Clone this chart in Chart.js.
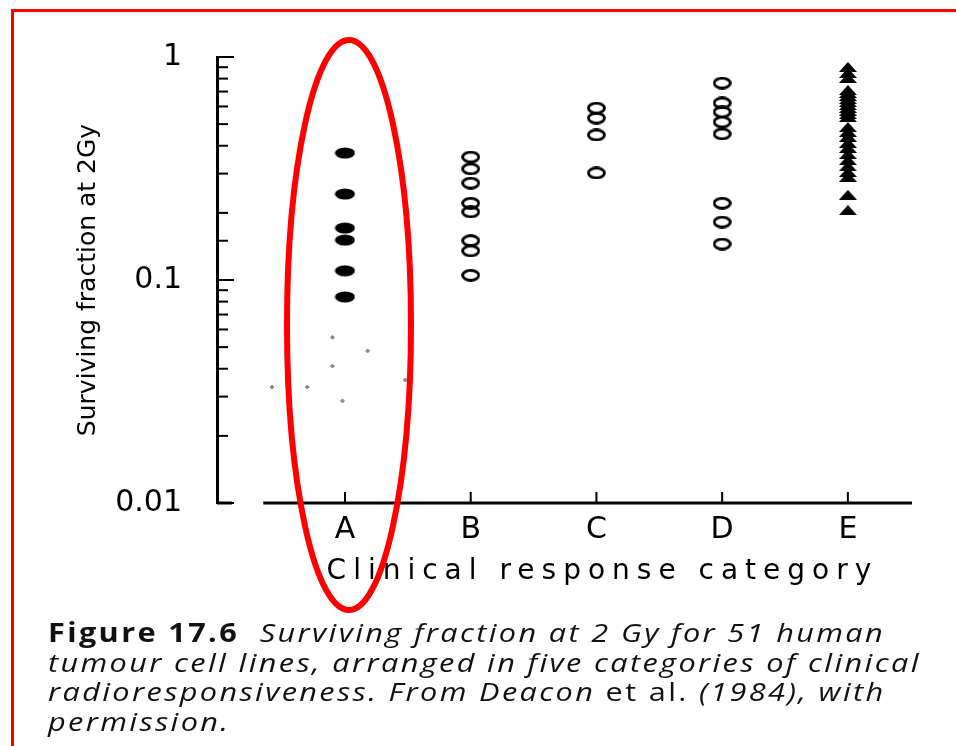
<!DOCTYPE html>
<html>
<head>
<meta charset="utf-8">
<script src="https://cdn.jsdelivr.net/npm/chart.js@4"></script>
<style>
  body { margin: 0; background: #fff; }
  #wrap { position: relative; width: 956px; height: 746px; overflow: hidden; }
  #myChart { position: absolute; left: 0; top: 0; }
  #frame { position: absolute; left: 11px; top: 9px; right: -10px; bottom: -10px; border-top: 3px solid #f00; border-left: 3px solid #f00; }
  #caption { position: absolute; left: 48px; top: 618px; font-family: "Open Sans"; font-size: 26px; line-height: 29.7px; letter-spacing: 2px; font-style: italic; color: #111; white-space: nowrap; transform: scaleX(1.18); transform-origin: 0 0; }
  #caption b { font-style: normal; font-weight: 700; }
  #caption .up { font-style: normal; }
</style>
</head>
<body>
<div id="wrap">
  <canvas id="myChart" width="956" height="746"></canvas>
  <div id="frame"></div>
  <div id="caption"><b>Figure 17.6</b>&nbsp; Surviving fraction at 2 Gy for 51 human<br>tumour cell lines, arranged in five categories of clinical<br>radioresponsiveness. From Deacon <span class="up">et al.</span> (1984), with<br>permission.</div>
</div>
<script>
// surviving fraction at 2 Gy
var categories = ['A', 'B', 'C', 'D', 'E'];
var groupA = [0.371, 0.243, 0.171, 0.151, 0.110, 0.084];
var groupB = [0.356, 0.315, 0.272, 0.221, 0.202, 0.150, 0.135, 0.105];
var groupC = [0.590, 0.532, 0.447, 0.302];
var groupD = [0.764, 0.622, 0.567, 0.511, 0.452, 0.221, 0.182, 0.145];
var groupE = [0.902, 0.848, 0.805, 0.711, 0.690, 0.669, 0.648, 0.629, 0.609, 0.591,
              0.573, 0.555, 0.538, 0.485, 0.461, 0.438, 0.412, 0.391, 0.367, 0.345,
              0.324, 0.305, 0.290, 0.241, 0.206];
// small grey specks from the scan
var speckX = [0.90, 1.18, 0.90, 1.48, 0.42, 0.70, 0.98];
var speckY = [0.0553, 0.0481, 0.0411, 0.0356, 0.0331, 0.0331, 0.0287];
var yTickValues = [0.01, 0.1, 1];
var yTickLabels = ['0.01', '0.1', '1'];
var xTitle = 'Clinical response category';

function toPoints(vals, cat) {
    return vals.map(function (v) { return { x: cat, y: v }; });
}

function makeMarker(w, h, draw) {
    var c = document.createElement('canvas');
    c.width = w;
    c.height = h;
    draw(c.getContext('2d'), w, h);
    return c;
}

var dotFilled = makeMarker(21, 12, function (g, w, h) {
    g.beginPath();
    g.ellipse(w / 2, h / 2, w / 2 - 0.5, h / 2 - 0.5, 0, 0, Math.PI * 2);
    g.fillStyle = '#000';
    g.fill();
});
var dotOpen = makeMarker(19, 13, function (g, w, h) {
    g.beginPath();
    g.ellipse(w / 2, h / 2, w / 2 - 1.5, h / 2 - 1.5, 0, 0, Math.PI * 2);
    g.lineWidth = 2.8;
    g.strokeStyle = '#000';
    g.stroke();
});
var tri = makeMarker(18, 10, function (g, w, h) {
    g.beginPath();
    g.moveTo(w / 2, 0);
    g.lineTo(w, h);
    g.lineTo(0, h);
    g.closePath();
    g.fillStyle = '#000';
    g.fill();
});

function isDecade(v) {
    var l = Math.log10(v);
    return Math.abs(l - Math.round(l)) < 1e-6;
}

var axisDecor = {
    id: 'axisDecor',
    afterDraw: function (chart) {
        var ctx = chart.ctx, xs = chart.scales.x, ys = chart.scales.y, area = chart.chartArea;
        ctx.save();
        ctx.strokeStyle = '#000';
        ctx.lineWidth = 3;
        // x baseline starts a little right of the y axis
        ctx.beginPath();
        ctx.moveTo(xs.getPixelForValue(0.35), area.bottom);
        ctx.lineTo(area.right, area.bottom);
        ctx.stroke();
        ctx.beginPath();
        ctx.moveTo(area.left, area.bottom);
        ctx.lineTo(area.left + 15, area.bottom);
        ctx.stroke();
        // inward ticks
        ctx.lineWidth = 2;
        ys.ticks.forEach(function (t) {
            var py = ys.getPixelForValue(t.value);
            ctx.beginPath();
            ctx.moveTo(area.left, py);
            ctx.lineTo(area.left + (isDecade(t.value) ? 17 : 11), py);
            ctx.stroke();
        });
        xs.ticks.forEach(function (t) {
            var px = xs.getPixelForValue(t.value);
            ctx.beginPath();
            ctx.moveTo(px, area.bottom);
            ctx.lineTo(px, area.bottom - 11);
            ctx.stroke();
        });
        // x axis title, widely spaced
        ctx.font = '28px "DejaVu Sans"';
        ctx.letterSpacing = '7px';
        ctx.textAlign = 'center';
        ctx.textBaseline = 'middle';
        ctx.fillStyle = '#000';
        ctx.fillText(xTitle, xs.getPixelForValue(3) + 6, area.bottom + 69);
        ctx.letterSpacing = '0px';
        // red highlight round category A
        ctx.strokeStyle = '#f00';
        ctx.lineWidth = 6;
        ctx.beginPath();
        ctx.ellipse(xs.getPixelForValue(1) + 4, 325, 62, 285, 0, 0, Math.PI * 2);
        ctx.stroke();
        ctx.restore();
    }
};

var ctx = document.getElementById('myChart').getContext('2d');
var myChart = new Chart(ctx, {
    type: 'scatter',
    data: {
        datasets: [
            { label: 'A', data: toPoints(groupA, 1), pointStyle: dotFilled },
            { label: 'B', data: toPoints(groupB, 2), pointStyle: dotOpen },
            { label: 'C', data: toPoints(groupC, 3), pointStyle: dotOpen },
            { label: 'D', data: toPoints(groupD, 4), pointStyle: dotOpen },
            { label: 'E', data: toPoints(groupE, 5), pointStyle: tri },
            {
                label: 'specks',
                data: speckX.map(function (x, i) { return { x: x, y: speckY[i] }; }),
                pointStyle: 'rectRot',
                pointRadius: 2,
                backgroundColor: '#888',
                borderColor: '#888',
                borderWidth: 1
            }
        ]
    },
    options: {
        responsive: false,
        animation: false,
        layout: { padding: { top: 57, right: 44, left: 0, bottom: 0 } },
        plugins: {
            legend: { display: false },
            tooltip: { enabled: false }
        },
        scales: {
            x: {
                type: 'linear',
                min: -0.018,
                max: 5.51,
                afterBuildTicks: function (s) {
                    s.ticks = categories.map(function (c, i) { return { value: i + 1 }; });
                },
                ticks: {
                    callback: function (v) { return categories[v - 1]; },
                    font: { family: 'DejaVu Sans', size: 30 },
                    color: '#000',
                    padding: 1,
                    autoSkip: false,
                    maxRotation: 0
                },
                grid: { display: false },
                border: { display: false },
                afterFit: function (s) { s.height = 243; }
            },
            y: {
                type: 'logarithmic',
                min: 0.01,
                max: 1,
                ticks: {
                    callback: function (v) {
                        for (var i = 0; i < yTickValues.length; i++) {
                            if (Math.abs(v - yTickValues[i]) < yTickValues[i] * 1e-6) return yTickLabels[i];
                        }
                        return '';
                    },
                    font: { family: 'DejaVu Sans', size: 30 },
                    color: '#000',
                    padding: 27,
                    autoSkip: false
                },
                grid: { display: false },
                border: { display: true, color: '#000', width: 3 },
                title: {
                    display: true,
                    text: 'Surviving fraction at 2Gy',
                    font: { family: 'DejaVu Sans', size: 25 },
                    color: '#000',
                    padding: { top: 73, bottom: 0 }
                },
                afterFit: function (s) { s.width = 217; }
            }
        }
    },
    plugins: [axisDecor]
});
</script>
</body>
</html>
